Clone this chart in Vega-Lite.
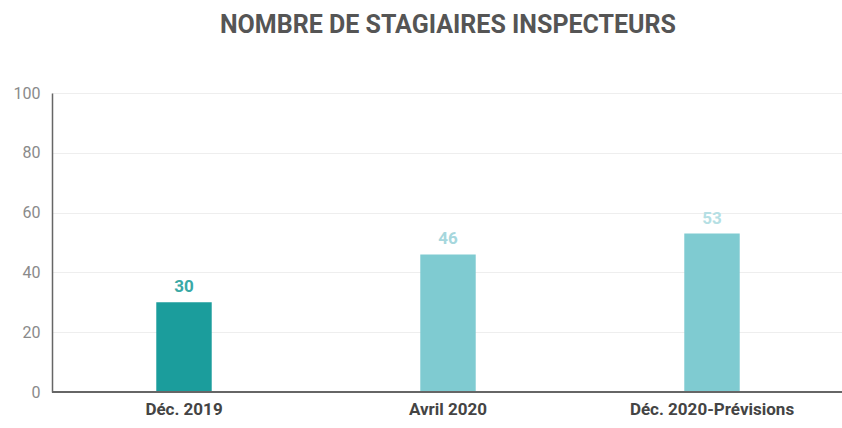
{
  "$schema": "https://vega.github.io/schema/vega-lite/v6.json",
  "autosize": "none",
  "width": 792,
  "height": 299,
  "padding": {"left": 52, "top": 93, "right": 0, "bottom": 36},
  "background": "white",
  "title": {
    "text": "NOMBRE DE STAGIAIRES INSPECTEURS",
    "font": "Roboto",
    "fontSize": 25,
    "fontWeight": "bold",
    "color": "#555555",
    "anchor": "middle",
    "offset": 47
  },
  "data": {
    "values": [
      {"periode": "Déc. 2019", "stagiaires": 30},
      {"periode": "Avril 2020", "stagiaires": 46},
      {"periode": "Déc. 2020-Prévisions", "stagiaires": 53}
    ]
  },
  "encoding": {
    "x": {
      "field": "periode",
      "type": "nominal",
      "sort": null,
      "scale": {"paddingInner": 0.79, "paddingOuter": 0.395},
      "axis": {
        "title": null,
        "labelAngle": 0,
        "labelFont": "Roboto",
        "labelFontSize": 17,
        "labelFontWeight": "bold",
        "labelColor": "#444444",
        "labelPadding": 9,
        "labelLimit": 400,
        "ticks": false,
        "domain": false
      }
    },
    "y": {
      "field": "stagiaires",
      "type": "quantitative",
      "scale": {"domain": [0, 100]},
      "axis": {
        "title": null,
        "values": [0, 20, 40, 60, 80, 100],
        "labelFont": "Roboto",
        "labelFontSize": 16,
        "labelColor": "#8a8a8a",
        "labelPadding": 12,
        "ticks": false,
        "domainColor": "#666666",
        "domainWidth": 1.5,
        "gridColor": "#eeeeee",
        "gridWidth": 1
      }
    }
  },
  "layer": [
    {
      "mark": {"type": "bar"},
      "encoding": {
        "color": {
          "field": "periode",
          "type": "nominal",
          "sort": null,
          "scale": {"range": ["#1b9d9c", "#7fcbd1", "#7fcbd1"]},
          "legend": null
        }
      }
    },
    {
      "mark": {"type": "rule", "color": "#666666", "strokeWidth": 2},
      "encoding": {"y": {"datum": 0}, "x": null}
    },
    {
      "mark": {"type": "text", "dy": -15, "font": "Roboto", "fontSize": 17, "fontWeight": "bold"},
      "encoding": {
        "text": {"field": "stagiaires", "type": "quantitative"},
        "color": {
          "field": "periode",
          "type": "nominal",
          "sort": null,
          "scale": {"range": ["#3aa9a6", "#a6d7dd", "#b5dfe4"]},
          "legend": null
        }
      }
    }
  ],
  "resolve": {"scale": {"color": "independent"}},
  "config": {"view": {"stroke": null}}
}
